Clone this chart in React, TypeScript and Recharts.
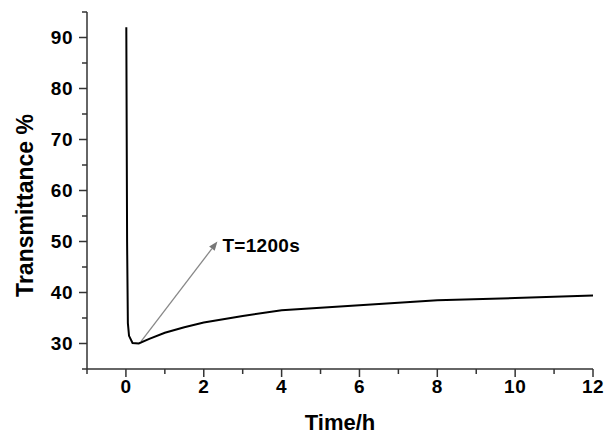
import React from "react";
import { LineChart, Line, XAxis, YAxis, ReferenceLine } from "recharts";

const timeH = [0.01, 0.03, 0.05, 0.08, 0.17, 0.33, 0.6, 1, 1.5, 2, 3, 4, 6, 8, 10, 12];
const transmittance = [92, 50, 34, 31.5, 30.1, 30, 30.9, 32.1, 33.2, 34.1, 35.4, 36.5, 37.5, 38.5, 38.9, 39.4];

const xTicks = [-1, 0, 1, 2, 3, 4, 5, 6, 7, 8, 9, 10, 11, 12];
const yTicks = [25, 30, 35, 40, 45, 50, 55, 60, 65, 70, 75, 80, 85, 90, 95];

const arrowStart = { x: 0.39, y: 30.4 };
const arrowEnd = { x: 2.35, y: 50 };
const arrowText = "T=1200s";

const data = timeH.map((t, i) => ({ t, v: transmittance[i] }));

const FONT = "'Liberation Sans', Arial, sans-serif";
const AXIS = "#333";

const XTick = (props: any) => {
  const { x, y, payload } = props;
  const major = payload.value % 2 === 0;
  return (
    <g>
      <line x1={x} y1={y} x2={x} y2={y + (major ? 8 : 5)} stroke={AXIS} strokeWidth={1.5} />
      {major && (
        <text x={x} y={y + 24} textAnchor="middle" fontFamily={FONT} fontWeight="bold" fontSize={19} letterSpacing={0.5} fill="#000">
          {payload.value}
        </text>
      )}
    </g>
  );
};

const YTick = (props: any) => {
  const { x, y, payload } = props;
  const major = payload.value % 10 === 0;
  return (
    <g>
      <line x1={x} y1={y} x2={x - (major ? 8 : 5)} y2={y} stroke={AXIS} strokeWidth={1.5} />
      {major && (
        <text x={x - 14} y={y + 6.5} textAnchor="end" fontFamily={FONT} fontWeight="bold" fontSize={19} letterSpacing={0.5} fill="#000">
          {payload.value}
        </text>
      )}
    </g>
  );
};

const ArrowShape = (props: any) => {
  const { x1, y1, x2, y2 } = props;
  const ang = Math.atan2(y2 - y1, x2 - x1);
  const len = 9;
  const half = 3.5;
  const bx = x2 - len * Math.cos(ang);
  const by = y2 - len * Math.sin(ang);
  const px = -Math.sin(ang) * half;
  const py = Math.cos(ang) * half;
  return (
    <g>
      <line x1={x1} y1={y1} x2={bx} y2={by} stroke="#888" strokeWidth={1.3} />
      <polygon points={`${x2},${y2} ${bx + px},${by + py} ${bx - px},${by - py}`} fill="#777" />
      <text x={x2 + 5} y={y2 + 10.5} fontFamily={FONT} fontWeight="bold" fontSize={19} letterSpacing={0.3} fill="#000">
        {arrowText}
      </text>
    </g>
  );
};

export default function App() {
  return (
    <div style={{ position: "fixed", left: 0, top: 0, background: "#fff" }}>
      <LineChart width={607} height={435} data={data} margin={{ top: 12, right: 14, left: 0, bottom: 0 }}>
        <XAxis
          dataKey="t"
          type="number"
          domain={[-1, 12]}
          ticks={xTicks}
          interval={0}
          height={66}
          tickSize={0}
          tickMargin={0}
          tickLine={false}
          tick={<XTick />}
          stroke={AXIS}
          strokeWidth={1.5}
          allowDataOverflow
          label={{
            content: ({ viewBox }: any) => (
              <text
                x={viewBox.x + viewBox.width / 2}
                y={430}
                textAnchor="middle"
                fontFamily={FONT}
                fontWeight="bold"
                fontSize={22}
                fill="#000"
              >
                Time/h
              </text>
            ),
          }}
        />
        <YAxis
          type="number"
          domain={[25, 95]}
          ticks={yTicks}
          interval={0}
          width={87}
          tickSize={0}
          tickMargin={0}
          tickLine={false}
          tick={<YTick />}
          stroke={AXIS}
          strokeWidth={1.5}
          allowDataOverflow
          label={{
            content: ({ viewBox }: any) => (
              <text
                transform={`translate(33, ${viewBox.y + viewBox.height / 2 + 15}) rotate(-90)`}
                textAnchor="middle"
                fontFamily={FONT}
                fontWeight="bold"
                fontSize={23}
                fill="#000"
              >
                Transmittance %
              </text>
            ),
          }}
        />
        <ReferenceLine segment={[arrowStart, arrowEnd]} shape={<ArrowShape />} ifOverflow="visible" />
        <Line
          type="linear"
          dataKey="v"
          stroke="#000"
          strokeWidth={2}
          dot={false}
          isAnimationActive={false}
        />
      </LineChart>
    </div>
  );
}
